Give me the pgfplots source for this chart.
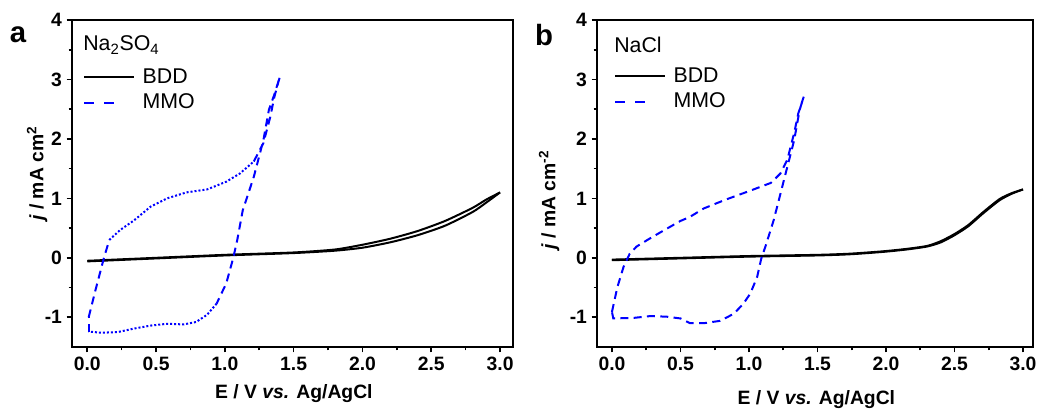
\documentclass[border=0pt]{standalone}
\usepackage{fontspec}
\setmainfont{Liberation Sans}
\usepackage{pgfplots}
\pgfplotsset{compat=1.18}

\definecolor{mmoblue}{RGB}{0,0,255}

\newcommand\labfont{\bfseries\fontsize{14.5}{15}\selectfont}

\pgfplotsset{
  cvstyle/.style={
    scale only axis, height=245.25pt,
    ymin=-1.5, ymax=4,
    xtick={0,0.5,...,3}, ytick={-1,0,...,4},
    minor x tick num=1, minor y tick num=1,
    tick pos=left, tick align=outside,
    major tick length=4pt, minor tick length=2.5pt,
    axis line style={line width=1.5pt},
    every tick/.style={line width=1.2pt, black},
    /pgf/number format/assume math mode=true,
    x tick label style={/pgf/number format/.cd, fixed, fixed zerofill, precision=1, /tikz/.cd},
    tick label style={font=\bfseries\fontsize{14.5}{15}\selectfont},
    legend style={draw=none, fill=none, font=\fontsize{16}{16}\selectfont,
      anchor=north west, inner sep=0pt, row sep=2.5pt,
      nodes={inner xsep=6pt}},
    legend cell align=left,
  },
  bdd/.style={black, line width=1.5pt, smooth, tension=0.4, forget plot},
  mmodash/.style={mmoblue, line width=1.5pt, dash pattern=on 6pt off 4pt, forget plot},
  mmodot/.style={mmoblue, line width=1.5pt, dash pattern=on 1.5pt off 1.5pt, forget plot},
  bddleg/.style={legend image code/.code={\draw[black, line width=1.5pt] (0pt,0pt) -- (37pt,0pt);}},
  mmoleg/.style={legend image code/.code={\draw[mmoblue, line width=1.5pt, dash pattern=on 7pt off 8pt] (0pt,0pt) -- (22pt,0pt);}},
}

\begin{document}
\begin{tikzpicture}
\useasboundingbox (0,0) rectangle (777.75pt,-306.75pt);

% ---------- panel a: Na2SO4
\begin{axis}[cvstyle,
  at={(54pt,-260.25pt)}, anchor=south west,
  width=330.75pt, xmin=-0.111, xmax=3.094,
  xlabel={E / V \textit{vs.} Ag/AgCl},
  ylabel={\textit{j} / mA cm\textsuperscript{2}},
  xlabel style={at={(rel axis cs:0.503,-0.141)}, anchor=center, font=\labfont},
  ylabel style={at={(rel axis cs:-0.079,0.53)}, anchor=center, font=\labfont},
  legend style={at={(rel axis cs:0.025,0.86)}},
]
\addlegendimage{bddleg}
\addlegendentry{BDD}
\addlegendimage{mmoleg}
\addlegendentry{MMO}

% BDD forward and reverse
\addplot[bdd] coordinates {
  (0,-0.06) (0.5,-0.01) (1.0,0.04) (1.5,0.08) (1.8,0.12) (2.0,0.17) (2.2,0.26)
  (2.4,0.38) (2.6,0.54) (2.8,0.77) (2.9,0.93) (3.0,1.1)
};
\addplot[bdd] coordinates {
  (3.0,1.1) (2.9,0.98) (2.8,0.84) (2.6,0.62) (2.4,0.45) (2.2,0.32) (2.0,0.22)
  (1.8,0.14) (1.5,0.09) (1.0,0.05) (0.5,0.0) (0,-0.05)
};

% MMO cycle
\addplot[mmodash] coordinates {
  (0.01,-1.0) (0.06,-0.54) (0.12,-0.01) (0.16,0.30)
};
\addplot[mmodot] coordinates {
  (0.16,0.30) (0.24,0.47) (0.34,0.63) (0.46,0.86) (0.58,1.0) (0.72,1.10)
  (0.87,1.15) (1.01,1.28) (1.11,1.42) (1.21,1.62)
};
\addplot[mmodash] coordinates {
  (1.21,1.62) (1.28,1.93) (1.33,2.37) (1.36,2.71) (1.40,3.05) (1.36,2.75)
  (1.32,2.49) (1.28,1.98) (1.21,1.36) (1.13,0.80) (1.09,0.30) (1.06,-0.01)
  (1.01,-0.43) (0.94,-0.77)
};
\addplot[mmodot] coordinates {
  (0.94,-0.77) (0.87,-0.96) (0.79,-1.08) (0.70,-1.12) (0.58,-1.11) (0.46,-1.14)
  (0.34,-1.19) (0.22,-1.25) (0.10,-1.26) (0.01,-1.24)
};
\addplot[mmodash] coordinates {(0.01,-1.24) (0.01,-1.0)};

\node[anchor=west, inner sep=0pt, font=\fontsize{16}{16}\selectfont]
  at (rel axis cs:0.025,0.924) {Na\textsubscript{2}SO\textsubscript{4}};
\end{axis}

% ---------- panel b: NaCl
\begin{axis}[cvstyle,
  at={(447.75pt,-260.25pt)}, anchor=south west,
  width=327pt, xmin=-0.109, xmax=3.073,
  xlabel={E / V \textit{vs.} Ag/AgCl},
  ylabel={\textit{j} / mA cm\textsuperscript{-2}},
  xlabel style={at={(rel axis cs:0.503,-0.160)}, anchor=center, font=\labfont},
  ylabel style={at={(rel axis cs:-0.11,0.45)}, anchor=center, font=\labfont},
  legend style={at={(rel axis cs:0.039,0.863)}},
]
\addlegendimage{bddleg}
\addlegendentry{BDD}
\addlegendimage{mmoleg}
\addlegendentry{MMO}

\addplot[bdd] coordinates {
  (0,-0.04) (0.5,-0.01) (1.0,0.02) (1.5,0.04) (1.74,0.06) (1.98,0.10) (2.15,0.14)
  (2.3,0.19) (2.4,0.26) (2.5,0.38) (2.6,0.53) (2.71,0.75) (2.83,0.97) (2.92,1.08) (3.0,1.15)
};
\addplot[bdd] coordinates {
  (3.0,1.15) (2.92,1.09) (2.83,0.99) (2.71,0.77) (2.6,0.55) (2.5,0.40) (2.4,0.28)
  (2.3,0.20) (2.15,0.15) (1.98,0.11) (1.74,0.07) (1.5,0.05) (1.0,0.03) (0.5,0.0) (0,-0.03)
};

\addplot[mmodash] coordinates {
  (0,-0.91) (0.04,-0.49) (0.085,-0.15) (0.13,0.07) (0.18,0.19) (0.28,0.33)
  (0.40,0.49) (0.50,0.62) (0.57,0.69) (0.67,0.83) (0.82,0.97) (1.01,1.13)
  (1.16,1.26) (1.23,1.42) (1.28,1.65) (1.33,2.10) (1.36,2.43) (1.40,2.71)
  (1.37,2.49) (1.33,1.98) (1.28,1.53) (1.23,1.08) (1.18,0.63) (1.12,0.19)
  (1.09,-0.01) (1.06,-0.32) (1.01,-0.60) (0.96,-0.77) (0.89,-0.94) (0.79,-1.06)
  (0.67,-1.10) (0.57,-1.10) (0.50,-1.02) (0.40,-0.99) (0.28,-0.98) (0.16,-1.01)
  (0.01,-1.02) (0,-0.91)
};

\node[anchor=west, inner sep=0pt, font=\fontsize{16}{16}\selectfont]
  at (rel axis cs:0.039,0.924) {NaCl};
\end{axis}

\node[font=\bfseries\fontsize{22}{22}\selectfont] at (13.5pt,-26.25pt) {a};
\node[font=\bfseries\fontsize{22}{22}\selectfont] at (408pt,-26.25pt) {b};
\end{tikzpicture}
\end{document}
